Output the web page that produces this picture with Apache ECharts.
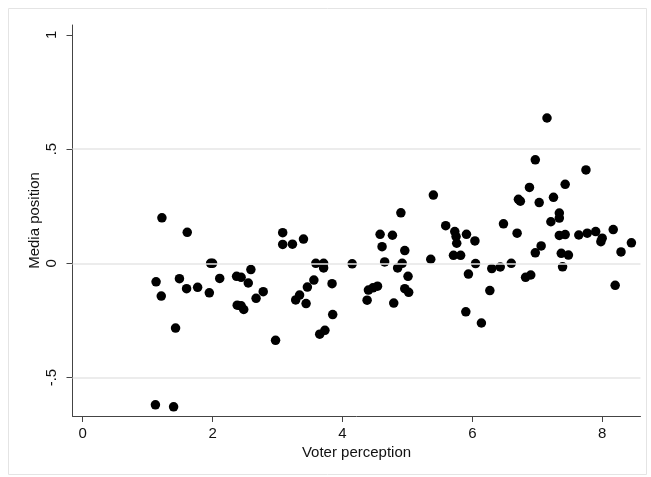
<!DOCTYPE html>
<html>
<head>
<meta charset="utf-8">
<script src="https://cdn.jsdelivr.net/npm/echarts@6/dist/echarts.min.js"></script>
<style>html,body{margin:0;padding:0;background:#fff}#c{width:651px;height:477px}</style>
</head>
<body>
<div id="c"></div>
<script>
var voterPerception = [
1.13,1.22,1.21,1.43,1.49,1.61,1.60,1.77,1.12,1.40,
1.95,1.97,2.00,2.11,2.37,2.44,2.55,2.59,2.38,2.44,
2.48,2.67,2.78,2.97,3.08,3.08,3.23,3.40,3.28,3.34,
3.44,3.46,3.56,3.59,3.71,3.71,3.65,3.73,3.84,3.85,
4.15,4.38,4.40,4.47,4.54,4.58,4.61,4.65,4.77,4.79,
4.90,4.96,4.92,4.85,5.01,4.96,5.02,5.36,5.40,5.59,
5.73,5.75,5.76,5.71,5.82,5.91,6.04,6.05,5.94,5.90,
6.14,6.27,6.30,6.43,6.48,6.60,6.69,6.71,6.74,6.82,
6.90,6.88,6.97,6.97,7.03,7.06,7.15,7.21,7.25,7.34,
7.34,7.34,7.37,7.43,7.43,7.48,7.39,7.64,7.75,7.77,
7.90,8.00,7.98,8.17,8.20,8.29,8.45
];
var mediaPosition = [
-0.081,0.199,-0.143,-0.283,-0.067,0.136,-0.111,-0.105,-0.619,-0.628,
-0.129,0.0,0.0,-0.066,-0.057,-0.061,-0.086,-0.027,-0.183,-0.186,
-0.202,-0.153,-0.124,-0.337,0.134,0.083,0.084,0.106,-0.160,-0.139,
-0.176,-0.104,-0.073,0.0,0.0,-0.020,-0.310,-0.293,-0.089,-0.224,
-0.002,-0.161,-0.117,-0.107,-0.100,0.127,0.073,0.006,0.123,-0.174,
0.221,0.056,0.0,-0.020,-0.057,-0.111,-0.127,0.018,0.299,0.165,
0.139,0.117,0.088,0.035,0.035,0.127,0.098,-0.001,-0.047,-0.212,
-0.261,-0.119,-0.023,-0.016,0.173,0.0,0.132,0.280,0.272,-0.061,
-0.051,0.332,0.453,0.046,0.266,0.076,0.636,0.182,0.289,0.220,
0.198,0.122,0.044,0.346,0.126,0.036,-0.015,0.124,0.409,0.132,
0.139,0.110,0.095,0.148,-0.096,0.050,0.090
];
var xTicks = [0,2,4,6,8];
var yTicks = [-0.5,0,0.5,1];
var yGrid = [-0.5,0,0.5];

var points = voterPerception.map(function(v,i){return [v, mediaPosition[i]];});
function fmt(v){ if(v===0) return '0'; var s=String(v); return s.replace(/^(-?)0\./,'$1.'); }

var chart = echarts.init(document.getElementById('c'), null, {renderer:'canvas'});
var font = 'Liberation Sans, Arial, Helvetica, sans-serif';
chart.setOption({
  animation:false,
  backgroundColor:'#ffffff',
  graphic:[{type:'rect',shape:{x:8.5,y:8.5,width:638,height:466},style:{fill:'none',stroke:'#e4e4e4',lineWidth:1},z:-1}],
  grid:{left:72.5,top:25,width:568,height:391,containLabel:false},
  xAxis:{
    type:'value',min:-0.157,max:8.59,
    name:'Voter perception',nameLocation:'middle',nameGap:29,nameMoveOverlap:false,
    nameTextStyle:{fontFamily:font,fontSize:15,color:'#111'},
    axisLine:{show:true,onZero:false,lineStyle:{color:'#444',width:1}},
    axisTick:{show:true,inside:false,length:6,customValues:xTicks,lineStyle:{color:'#444'}},
    axisLabel:{customValues:xTicks,fontFamily:font,fontSize:15,color:'#111',margin:10,formatter:function(v){return fmt(v);}},
    splitLine:{show:false}
  },
  yAxis:{
    type:'value',min:-0.668,max:1.043,
    name:'Media position',nameLocation:'middle',nameGap:30,nameRotate:90,nameMoveOverlap:false,
    nameTextStyle:{fontFamily:font,fontSize:15,color:'#111'},
    axisLine:{show:true,onZero:false,lineStyle:{color:'#444',width:1}},
    axisTick:{show:true,inside:false,length:6,customValues:yTicks,lineStyle:{color:'#444'}},
    axisLabel:{customValues:yTicks,rotate:90,fontFamily:font,fontSize:15,color:'#111',margin:13,formatter:function(v){return fmt(v);}},
    splitLine:{show:false}
  },
  series:[
    {type:'line',data:[],z:1,silent:true,
     markLine:{silent:true,symbol:['none','none'],label:{show:false},
       lineStyle:{color:'#e6e6e6',width:1.5,type:'solid'},
       data:yGrid.map(function(v){return {yAxis:v};})}},
    {type:'scatter',data:points,symbol:'circle',symbolSize:9.5,z:3,
     itemStyle:{color:'#000000',opacity:1}}
  ]
});
</script>
</body>
</html>
